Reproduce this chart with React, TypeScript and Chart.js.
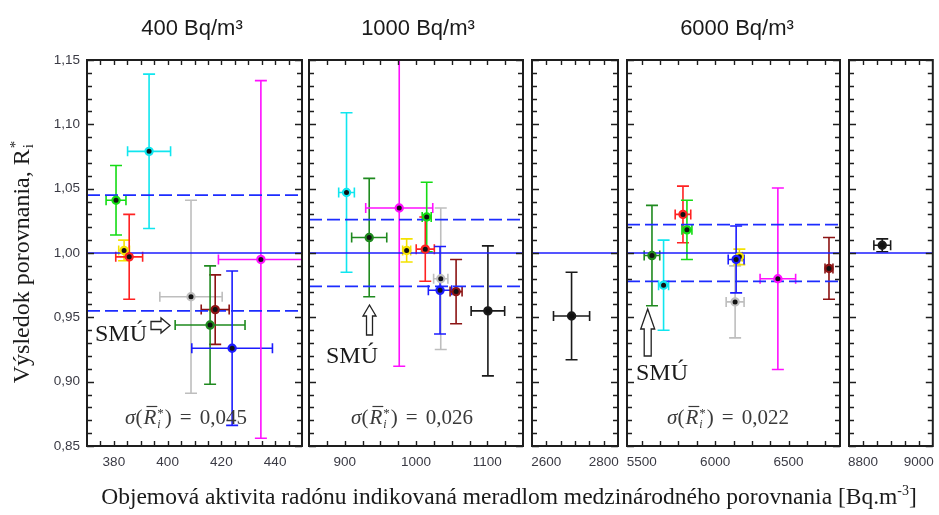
import React, { useEffect, useRef } from "react";
import { Chart, registerables } from "chart.js";

Chart.register(...registerables);

// ---------------- DATA ----------------
const yMin = 0.85;
const yMax = 1.15;
const referenceLevel = 1.0;
const panelTitles = ["400 Bq/m³", "1000 Bq/m³", "6000 Bq/m³"];
const yAxisTitle = "Výsledok porovnania, R";
const xAxisTitle = "Objemová aktivita radónu indikovaná meradlom medzinárodného porovnania [Bq.m";

// 400 Bq/m3
const p400Labs = ["lime", "cyan", "yellow", "red", "gray", "darkred", "darkgreen", "blue", "magenta"];
const p400X = [380.8, 393.1, 383.8, 385.7, 408.7, 417.7, 415.8, 424.0, 434.7];
const p400Y = [1.041, 1.079, 1.002, 0.997, 0.966, 0.956, 0.944, 0.926, 0.995];
const p400Dx = [3.7, 8.0, 2.0, 5.0, 11.6, 5.2, 13.0, 15.0, 15.8];
const p400Dy = [0.027, 0.06, 0.008, 0.033, 0.075, 0.027, 0.046, 0.06, 0.139];
const p400Sigma = 0.045;
const p400Ticks = [380, 400, 420, 440];

// 1000 Bq/m3
const p1000Labs = ["cyan", "darkgreen", "magenta", "yellow", "lime", "red", "gray", "blue", "darkred", "black"];
const p1000X = [902.6, 934.4, 976.5, 986.9, 1015, 1013, 1034.7, 1033.7, 1056.2, 1100.8];
const p1000Y = [1.047, 1.012, 1.035, 1.002, 1.028, 1.003, 0.98, 0.971, 0.97, 0.955];
const p1000Dx = [11, 24.6, 47, 5.6, 6.3, 12.7, 10, 16.4, 8.4, 23.5];
const p1000Dy = [0.062, 0.046, 0.123, 0.009, 0.027, 0.025, 0.055, 0.034, 0.025, 0.0505];
const p1000Sigma = 0.026;
const p1000Ticks = [900, 1000, 1100];

// ~2700 Bq/m3
const p2700Labs = ["black"];
const p2700X = [2688];
const p2700Y = [0.951];
const p2700Dx = [63];
const p2700Dy = [0.034];
const p2700Ticks = [2600, 2800];

// 6000 Bq/m3
const p6000Labs = ["darkgreen", "cyan", "red", "lime", "gray", "yellow", "blue", "magenta", "darkred"];
const p6000X = [5570, 5649, 5781, 5808, 6136, 6165, 6143, 6427, 6775];
const p6000Y = [0.998, 0.975, 1.03, 1.018, 0.962, 0.997, 0.995, 0.98, 0.988];
const p6000Dx = [53, 34, 53, 34, 61, 20, 54, 121, 27];
const p6000Dy = [0.039, 0.035, 0.022, 0.023, 0.028, 0.006, 0.026, 0.0705, 0.024];
const p6000Sigma = 0.022;
const p6000Ticks = [5500, 6000, 6500];

// ~8900 Bq/m3
const p9000Labs = ["black"];
const p9000X = [8869];
const p9000Y = [1.006];
const p9000Dx = [30];
const p9000Dy = [0.005];
const p9000Ticks = [8800, 9000];

// ---------------- STYLE / LAYOUT ----------------
const W = 939;
const H = 515;
const PLOT_TOP = 60;
const PLOT_BOTTOM = 446;
const X_AXIS_H = 30;
const Y_AXIS_W = 40;
const SERIF = "'Liberation Serif', 'Times New Roman', serif";
const SANS = "'Liberation Sans', Arial, sans-serif";

const labColors: Record<string, string> = {
  lime: "#14dc14",
  cyan: "#10e6ef",
  yellow: "#f4e200",
  red: "#ff2222",
  gray: "#bebebe",
  darkred: "#8c1414",
  darkgreen: "#1f8a1f",
  blue: "#1c1cff",
  magenta: "#ff10ff",
  black: "#1a1a1a",
};

type Panel = {
  labs: string[]; x: number[]; y: number[]; dx: number[]; dy: number[];
  sigma: number | null; labels: number[];
  left: number; right: number; xMin: number; xMax: number; xStep: number;
  sigmaCx?: number; smu?: { tx: number; ty: number; arrow: any };
};

const panels: Panel[] = [
  { labs: p400Labs, x: p400X, y: p400Y, dx: p400Dx, dy: p400Dy, sigma: p400Sigma, labels: p400Ticks,
    left: 87, right: 302, xMin: 370, xMax: 450, xStep: 5, sigmaCx: 186,
    smu: { tx: 95, ty: 341, arrow: { dir: "right", x0: 151, cy: 325.5, len: 19, shaft: 8, head: 15, headL: 9 } } },
  { labs: p1000Labs, x: p1000X, y: p1000Y, dx: p1000Dx, dy: p1000Dy, sigma: p1000Sigma, labels: p1000Ticks,
    left: 309, right: 523, xMin: 850, xMax: 1150, xStep: 25, sigmaCx: 412,
    smu: { tx: 326, ty: 363, arrow: { dir: "up", cx: 369.5, tip: 305, bottom: 335, shaft: 6, head: 13, headL: 11 } } },
  { labs: p2700Labs, x: p2700X, y: p2700Y, dx: p2700Dx, dy: p2700Dy, sigma: null, labels: p2700Ticks,
    left: 532, right: 618, xMin: 2550, xMax: 2850, xStep: 50 },
  { labs: p6000Labs, x: p6000X, y: p6000Y, dx: p6000Dx, dy: p6000Dy, sigma: p6000Sigma, labels: p6000Ticks,
    left: 627, right: 840, xMin: 5400, xMax: 6850, xStep: 125, sigmaCx: 728,
    smu: { tx: 636, ty: 380, arrow: { dir: "up", cx: 647.7, tip: 309, bottom: 356, shaft: 7, head: 14, headL: 20 } } },
  { labs: p9000Labs, x: p9000X, y: p9000Y, dx: p9000Dx, dy: p9000Dy, sigma: null, labels: p9000Ticks,
    left: 849, right: 935, xMin: 8750, xMax: 9050, xStep: 50 },
];

const titleCenters = [192, 418, 737];

function stepTicks(min: number, max: number, step: number, dec = 0) {
  const out: number[] = [];
  const start = Math.ceil(min / step - 1e-9);
  for (let k = start; k * step <= max + 1e-9; k++) {
    const v = +(k * step).toFixed(dec);
    if (v > min + 1e-9 && v < max - 1e-9) out.push(v);
  }
  return out;
}

function drawSigma(ctx: CanvasRenderingContext2D, cx: number, by: number, value: string) {
  const fN = `21px ${SERIF}`, fI = `italic 21px ${SERIF}`, fS = `13px ${SERIF}`, fSI = `italic 12px ${SERIF}`;
  const m = (f: string, t: string) => { ctx.font = f; return ctx.measureText(t).width; };
  const wSig = m(fI, "σ"), wOp = m(fN, "("), wR = m(fI, "R"), wSS = Math.max(m(fS, "*"), m(fSI, "i")) + 2;
  const wCl = m(fN, ")"), wEq = m(fN, "="), wVal = m(fN, value);
  const g = 8;
  const total = wSig + wOp + 1 + wR + wSS + wCl + g + wEq + g + wVal;
  let x = cx - total / 2;
  ctx.fillStyle = "#3a3a3a";
  ctx.strokeStyle = "#3a3a3a";
  ctx.textAlign = "left";
  ctx.textBaseline = "alphabetic";
  ctx.font = fI; ctx.fillText("σ", x, by); x += wSig;
  ctx.font = fN; ctx.fillText("(", x, by); x += wOp + 1;
  ctx.font = fI; ctx.fillText("R", x, by);
  ctx.lineWidth = 1.2;
  ctx.beginPath(); ctx.moveTo(x + 3, by - 17.5); ctx.lineTo(x + wR + 1, by - 17.5); ctx.stroke();
  x += wR;
  ctx.font = fS; ctx.fillText("*", x + 1, by - 7);
  ctx.font = fSI; ctx.fillText("i", x + 1, by + 4);
  x += wSS;
  ctx.font = fN; ctx.fillText(")", x, by); x += wCl + g;
  ctx.fillText("=", x, by); x += wEq + g;
  ctx.fillText(value, x, by);
}

function drawArrow(ctx: CanvasRenderingContext2D, a: any) {
  ctx.beginPath();
  if (a.dir === "right") {
    const hx = a.x0 + a.len - a.headL;
    ctx.moveTo(a.x0, a.cy - a.shaft / 2);
    ctx.lineTo(hx, a.cy - a.shaft / 2);
    ctx.lineTo(hx, a.cy - a.head / 2);
    ctx.lineTo(a.x0 + a.len, a.cy);
    ctx.lineTo(hx, a.cy + a.head / 2);
    ctx.lineTo(hx, a.cy + a.shaft / 2);
    ctx.lineTo(a.x0, a.cy + a.shaft / 2);
  } else {
    const hy = a.tip + a.headL;
    ctx.moveTo(a.cx, a.tip);
    ctx.lineTo(a.cx + a.head / 2, hy);
    ctx.lineTo(a.cx + a.shaft / 2, hy);
    ctx.lineTo(a.cx + a.shaft / 2, a.bottom);
    ctx.lineTo(a.cx - a.shaft / 2, a.bottom);
    ctx.lineTo(a.cx - a.shaft / 2, hy);
    ctx.lineTo(a.cx - a.head / 2, hy);
  }
  ctx.closePath();
  ctx.fillStyle = "#fff";
  ctx.fill();
  ctx.strokeStyle = "#222";
  ctx.lineWidth = 1.3;
  ctx.stroke();
}

function makeChart(canvas: HTMLCanvasElement, p: Panel, idx: number) {
  const hasYLabels = idx === 0;
  const yW = hasYLabels ? Y_AXIS_W : 0;
  const xTickVals = stepTicks(p.xMin, p.xMax, p.xStep);
  const yTickVals = stepTicks(yMin - 0.01, yMax + 0.01, 0.01, 2);

  const points = p.x.map((xv, i) => ({ x: xv, y: p.y[i] }));
  const datasets: any[] = [
    {
      data: points,
      pointRadius: 3.6,
      pointBorderWidth: 2.2,
      pointBackgroundColor: "#111",
      pointBorderColor: p.labs.map((l) => labColors[l]),
      showLine: false,
      order: 0,
    },
    {
      data: [{ x: p.xMin, y: referenceLevel }, { x: p.xMax, y: referenceLevel }],
      showLine: true, borderColor: "#1c1cff", borderWidth: 1.5, pointRadius: 0, order: 2,
    },
  ];
  if (p.sigma !== null) {
    for (const s of [p.sigma, -p.sigma]) {
      datasets.push({
        data: [{ x: p.xMin, y: referenceLevel + s }, { x: p.xMax, y: referenceLevel + s }],
        showLine: true, borderColor: "#1c2cff", borderWidth: 1.8, borderDash: [13, 5], pointRadius: 0, order: 2,
      });
    }
  }

  const errPlugin = {
    id: "errbars" + idx,
    beforeDatasetsDraw(chart: any) {
      const { ctx, chartArea: ca } = chart;
      const xs = chart.scales.x, ys = chart.scales.y;
      ctx.save();
      ctx.beginPath();
      ctx.rect(ca.left, ca.top, ca.right - ca.left, ca.bottom - ca.top);
      ctx.clip();
      ctx.lineWidth = 1.6;
      p.x.forEach((xv, i) => {
        const px = xs.getPixelForValue(xv), py = ys.getPixelForValue(p.y[i]);
        const x1 = xs.getPixelForValue(xv - p.dx[i]), x2 = xs.getPixelForValue(xv + p.dx[i]);
        const y1 = ys.getPixelForValue(p.y[i] + p.dy[i]), y2 = ys.getPixelForValue(p.y[i] - p.dy[i]);
        ctx.strokeStyle = labColors[p.labs[i]];
        ctx.beginPath();
        ctx.moveTo(px, y1); ctx.lineTo(px, y2);
        ctx.moveTo(px - 6, y1); ctx.lineTo(px + 6, y1);
        ctx.moveTo(px - 6, y2); ctx.lineTo(px + 6, y2);
        ctx.moveTo(x1, py); ctx.lineTo(x2, py);
        ctx.moveTo(x1, py - 5); ctx.lineTo(x1, py + 5);
        ctx.moveTo(x2, py - 5); ctx.lineTo(x2, py + 5);
        ctx.stroke();
      });
      ctx.restore();
    },
  };

  const framePlugin = {
    id: "frame" + idx,
    afterDatasetsDraw(chart: any) {
      const { ctx, chartArea: ca } = chart;
      const xs = chart.scales.x, ys = chart.scales.y;
      ctx.save();
      ctx.strokeStyle = "#1e1e1e";
      ctx.lineWidth = 1.4;
      ctx.beginPath();
      xs.ticks.forEach((t: any) => {
        const px = Math.round(xs.getPixelForValue(t.value)) + 0.5;
        const len = 5;
        ctx.moveTo(px, ca.bottom); ctx.lineTo(px, ca.bottom - len);
        ctx.moveTo(px, ca.top); ctx.lineTo(px, ca.top + len);
      });
      ys.ticks.forEach((t: any) => {
        const py = Math.round(ys.getPixelForValue(t.value)) + 0.5;
        const major = Math.abs(Math.round(t.value * 20) - t.value * 20) < 1e-6;
        const len = major ? 7 : 5;
        ctx.moveTo(ca.left, py); ctx.lineTo(ca.left + len, py);
        ctx.moveTo(ca.right, py); ctx.lineTo(ca.right - len, py);
      });
      ctx.stroke();
      ctx.lineWidth = 2;
      ctx.strokeRect(ca.left, ca.top, ca.right - ca.left, ca.bottom - ca.top);
      ctx.restore();
    },
    afterDraw(chart: any) {
      const ctx = chart.ctx;
      ctx.save();
      if (p.sigma !== null && p.sigmaCx) {
        drawSigma(ctx, p.sigmaCx, 424, p.sigma.toFixed(3).replace(".", ","));
      }
      if (p.smu) {
        ctx.font = `24px ${SERIF}`;
        ctx.fillStyle = "#1a1a1a";
        ctx.textAlign = "left";
        ctx.textBaseline = "alphabetic";
        ctx.fillText("SMÚ", p.smu.tx, p.smu.ty);
        drawArrow(ctx, p.smu.arrow);
      }
      if (idx === 0) {
        // panel titles
        ctx.font = `22px ${SANS}`;
        ctx.fillStyle = "#1a1a1a";
        ctx.textAlign = "center";
        ctx.textBaseline = "alphabetic";
        panelTitles.forEach((t, i) => ctx.fillText(t, titleCenters[i], 35));
        // x title
        const fx = `23.5px ${SERIF}`, fxs = `14px ${SERIF}`;
        ctx.font = fx; const w1 = ctx.measureText(xAxisTitle).width; const w3 = ctx.measureText("]").width;
        ctx.font = fxs; const w2 = ctx.measureText("-3").width;
        let sx = 509 - (w1 + w2 + w3) / 2;
        ctx.textAlign = "left";
        ctx.font = fx; ctx.fillText(xAxisTitle, sx, 504); sx += w1;
        ctx.font = fxs; ctx.fillText("-3", sx, 495); sx += w2;
        ctx.font = fx; ctx.fillText("]", sx, 504);
        // y title
        ctx.save();
        ctx.translate(29, 262);
        ctx.rotate(-Math.PI / 2);
        const fy = `24px ${SERIF}`, fys = `15px ${SERIF}`;
        ctx.font = fy; const wm = ctx.measureText(yAxisTitle).width;
        ctx.font = fys; const ws = Math.max(ctx.measureText("*").width, ctx.measureText("i").width) + 1;
        let ty = -(wm + ws) / 2;
        ctx.font = fy; ctx.fillText(yAxisTitle, ty, 0); ty += wm;
        ctx.font = fys; ctx.fillText("*", ty + 1, -9); ctx.fillText("i", ty + 1, 4);
        ctx.restore();
      }
      ctx.restore();
    },
  };

  return new Chart(canvas, {
    type: "scatter",
    data: { datasets },
    options: {
      responsive: false,
      animation: false,
      devicePixelRatio: 1,
      events: [],
      layout: {
        padding: { left: p.left - yW, right: W - p.right, top: PLOT_TOP, bottom: H - PLOT_BOTTOM - X_AXIS_H },
      },
      plugins: { legend: { display: false }, tooltip: { enabled: false } },
      scales: {
        x: {
          type: "linear",
          position: "bottom",
          min: p.xMin,
          max: p.xMax,
          grid: { display: false, drawTicks: false },
          border: { display: false },
          afterBuildTicks: (s: any) => { s.ticks = xTickVals.map((v) => ({ value: v })); },
          ticks: {
            autoSkip: false, maxRotation: 0, minRotation: 0, padding: 8, color: "#3a3a44",
            font: { family: SANS, size: 13.5 },
            callback: (v: any) => (p.labels.includes(Math.round(v)) ? String(Math.round(v)) : ""),
          },
          afterFit: (s: any) => { s.height = X_AXIS_H; s.paddingLeft = 0; s.paddingRight = 0; },
        },
        y: {
          type: "linear",
          position: "left",
          min: yMin,
          max: yMax,
          grid: { display: false, drawTicks: false },
          border: { display: false },
          afterBuildTicks: (s: any) => { s.ticks = yTickVals.map((v) => ({ value: v })); },
          ticks: {
            display: hasYLabels, autoSkip: false, padding: 7, color: "#3a3a44",
            font: { family: SANS, size: 13.5 },
            callback: (v: any) => {
              const k = v * 20;
              return Math.abs(Math.round(k) - k) < 1e-6 ? v.toFixed(2).replace(".", ",") : "";
            },
          },
          afterFit: (s: any) => { s.width = yW; s.paddingTop = 0; s.paddingBottom = 0; },
        },
      },
    },
    plugins: [errPlugin, framePlugin],
  } as any);
}

export default function App() {
  const refs = useRef<(HTMLCanvasElement | null)[]>([]);
  useEffect(() => {
    document.body.style.margin = "0";
    const charts = panels.map((p, i) => makeChart(refs.current[i] as HTMLCanvasElement, p, i));
    return () => charts.forEach((c) => c.destroy());
  }, []);
  return (
    <div style={{ position: "relative", width: W, height: H, background: "#fff" }}>
      {panels.map((_, i) => (
        <canvas
          key={i}
          ref={(el) => { refs.current[i] = el; }}
          width={W}
          height={H}
          style={{ position: "absolute", left: 0, top: 0, width: W, height: H }}
        />
      ))}
    </div>
  );
}
